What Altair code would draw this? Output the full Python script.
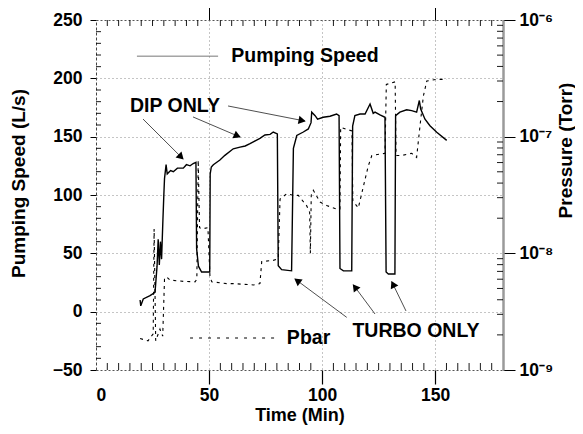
import math
import altair as alt
import pandas as pd

# ---------------- data ----------------
# Pumping speed (L/s) vs time (min)
speed_time = [19.5, 19.8, 20.9, 23.9, 26.1, 27.0, 27.5, 28.0, 28.5, 29.0, 29.6, 30.0, 30.3,
              31.0, 31.5, 32.0, 33.0, 34.2, 36.0, 38.6, 40.0, 41.6, 43.0, 44.2, 44.5, 45.3,
              46.7, 50.3, 50.5, 51.0, 51.9, 54.8, 57.0, 60.7, 63.7, 66.0, 68.1, 70.0, 72.5,
              74.7, 77.0, 78.4, 80.2, 80.6, 82.1, 86.5, 87.3, 88.8, 91.7, 93.9, 95.1, 95.4,
              96.9, 98.0, 100.5, 103.5, 106.4, 107.5, 107.9, 109.4, 113.1, 113.5, 114.5,
              116.8, 119.0, 121.2, 122.6, 123.4, 125.6, 127.8, 128.3, 129.3, 132.2, 132.5,
              134.4, 137.4, 139.6, 141.8, 143.0, 143.6, 145.5, 147.7, 150.7, 155.1]
speed_value = [10, 5, 10.9, 13.7, 16.6, 39, 62, 40, 60, 45, 79, 100, 114,
               126, 118, 119, 121, 120, 123, 123, 126, 125, 127, 128, 54, 39,
               34, 34, 118, 124, 126, 130, 134, 139.6, 141, 142, 144, 146, 148.6,
               151.4, 152, 154, 152.3, 39.4, 36, 35, 140, 151, 154, 156.6, 162, 171,
               168, 165, 166.6, 167.5, 169.4, 168, 37, 35, 35, 159, 168,
               169.4, 169.4, 178, 170, 171, 168.6, 166.6, 34, 32.3, 32.3, 168,
               171, 173, 172.3, 171, 181, 173.7, 165, 159.4, 153.7, 146.8]

# Pbar pressure (Torr) vs time (min)
pbar_time = [19.5, 23.0, 25.3, 25.7, 26.4, 28.3, 29.5, 30.3, 31.2, 32.7, 38.6, 43.8, 44.6,
             45.2, 45.8, 47.0, 49.5, 50.4, 51.2, 57.8, 60.7, 69.6, 72.5, 73.3, 78.4, 80.6,
             81.4, 84.3, 87.3, 89.5, 93.2, 94.5, 94.8, 95.2, 96.1, 99.1, 102.0, 106.4, 107.9,
             108.2, 113.2, 113.6, 116.0, 120.4, 122.0, 127.8, 128.4, 132.3, 132.7, 135.2,
             139.6, 141.8, 143.3, 144.8, 146.3, 150.7, 155.1]
pbar_value = [1.86e-9, 1.78e-9, 2.04e-9, 1.62e-8, 1.78e-9, 2.24e-9, 1.95e-9, 6.0e-9, 6.3e-9,
              5.9e-9, 5.75e-9, 5.7e-9, 6.0e-9, 6.3e-8, 1.66e-8, 1.62e-8, 1.66e-8, 6.3e-9,
              5.7e-9, 5.5e-9, 5.5e-9, 5.36e-9, 5.5e-9, 8.5e-9, 8.7e-9, 9.0e-9, 2.92e-8,
              3.24e-8, 3.14e-8, 3.14e-8, 2.55e-8, 2.24e-8, 1.0e-8, 3.16e-8, 3.47e-8, 2.75e-8,
              2.57e-8, 2.4e-8, 2.4e-8, 1.2e-7, 1.12e-7, 2.82e-8, 2.45e-8, 5.6e-8, 6.9e-8,
              7.2e-8, 2.8e-7, 2.95e-7, 6.9e-8, 6.9e-8, 7.2e-8, 6.65e-8, 1.24e-7, 2.24e-7,
              3.0e-7, 3.1e-7, 3.1e-7]

# axis ticks
x_ticks = [0, 50, 100, 150]
x_top_ticks = [50, 150]
x_minor = [v for v in range(5, 180, 5) if v % 50 != 0]
y_ticks = [-50, 0, 50, 100, 150, 200, 250]
y_minor = [v for v in range(-40, 250, 10) if v % 50 != 0]
p_ticks = [1e-9, 1e-8, 1e-7, 1e-6]
p_minor = [m * 10.0 ** e for e in (-9, -8, -7) for m in range(2, 10)]

# annotations
label_text = ["Pumping Speed", "DIP ONLY", "TURBO ONLY", "Pbar"]
label_x = [92.4, 34.9, 141.5, 94.0]
label_y = [219.0, 176.3, -16.6, -22.6]

arrow_x1 = [20.8, 42.9, 58.4, 110.9, 123.4, 137.1]
arrow_y1 = [165.1, 166.9, 176.3, -4.9, -2.0, 0.6]
arrow_x2 = [38.5, 63.7, 92.4, 88.0, 113.8, 130.8]
arrow_y2 = [130.9, 149.7, 163.4, 28.0, 23.0, 25.7]

sample_x1 = [18.1, 41.6]
sample_x2 = [54.0, 80.0]
sample_y = [219.0, -22.6]

# ---------------- layout / style ----------------
W, H = 407, 350
X_DOM, Y_DOM, P_DOM = [0, 180], [-50, 250], [1e-9, 1e-6]
FONT = "Liberation Sans"
GRID = "#8a8a8a"

xs = alt.Scale(domain=X_DOM, nice=False, zero=False)
ys = alt.Scale(domain=Y_DOM, nice=False, zero=False)
ps = alt.Scale(type="log", domain=P_DOM, nice=False)

speed_df = pd.DataFrame({"t": speed_time, "s": speed_value})
pbar_df = pd.DataFrame({"t": pbar_time, "p": pbar_value})

speed = alt.Chart(speed_df).mark_line(color="black", strokeWidth=1.4).encode(
    x=alt.X("t:Q", scale=xs, axis=alt.Axis(
        values=x_ticks, title="Time (Min)", orient="bottom",
        labelFont=FONT, labelFontSize=17.5, labelFontWeight="bold", labelColor="black",
        labelPadding=2, tickSize=14, tickWidth=1.2,
        tickColor=alt.condition("datum.value == 0", alt.value("transparent"), alt.value("black")),
        domainColor="#555", domainDash=[2, 2], domainWidth=1,
        grid=True, gridDash=[1, 3], gridWidth=1,
        gridColor=alt.condition("datum.value == 0", alt.value("transparent"), alt.value(GRID)),
        titleFont=FONT, titleFontSize=18, titleFontWeight="bold", titleColor="black",
        titlePadding=3)),
    y=alt.Y("s:Q", scale=ys, axis=alt.Axis(
        values=y_ticks, title="Pumping Speed (L/s)", orient="left",
        labelFont=FONT, labelFontSize=17.5, labelFontWeight="bold", labelColor="black",
        labelPadding=8, tickSize=6, tickColor="black",
        domainColor="#444", domainDash=[3, 2], domainWidth=1,
        grid=True, gridDash=[1, 3], gridWidth=1,
        gridColor=alt.condition("datum.value == -50 || datum.value == 250",
                                alt.value("transparent"), alt.value(GRID)),
        titleFont=FONT, titleFontSize=19, titleFontWeight="bold", titleColor="black",
        titleAngle=270, titleX=-78, titleY=163, titleBaseline="middle")),
)

pbar = alt.Chart(pbar_df).mark_line(color="black", strokeWidth=1.1, strokeDash=[3, 4]).encode(
    x=alt.X("t:Q", scale=xs, axis=None),
    y=alt.Y("p:Q", scale=ps, axis=alt.Axis(
        values=p_ticks, title="Pressure (Torr)", orient="right",
        labelExpr="datum.value <= 1.5e-9 ? '10⁻⁹' : datum.value <= 1.5e-8 ? '10⁻⁸' : "
                  "datum.value <= 1.5e-7 ? '10⁻⁷' : '10⁻⁶'",
        labelFont=FONT, labelFontSize=17.5, labelFontWeight="bold", labelColor="black",
        labelPadding=4, tickSize=12, tickColor="black",
        domainColor="#9a9a9a", domainWidth=2.5, grid=False,
        titleFont=FONT, titleFontSize=19, titleFontWeight="bold", titleColor="black",
        titleAngle=270, titleX=62, titleY=130, titleBaseline="middle")),
)

# minor ticks (inward)
top_minor = alt.Chart(pd.DataFrame({"t": x_minor})).mark_rule(color="black", strokeWidth=0.9).encode(
    x=alt.X("t:Q", scale=xs, axis=alt.Axis(
        values=x_top_ticks, orient="top", labels=False, title=None, tickSize=15,
        tickColor="black", domainColor="#555", domainDash=[2, 2], grid=False)),
    y=alt.value(0), y2=alt.value(6),
)
bottom_minor = alt.Chart(pd.DataFrame({"t": x_minor})).mark_rule(color="black", strokeWidth=0.9).encode(
    x=alt.X("t:Q", scale=xs, axis=None),
    y=alt.value(H - 7), y2=alt.value(H),
)
left_minor = alt.Chart(pd.DataFrame({"s": y_minor})).mark_rule(color="black", strokeWidth=0.9).encode(
    y=alt.Y("s:Q", scale=ys, axis=None),
    x=alt.value(0), x2=alt.value(5),
)
right_minor = alt.Chart(pd.DataFrame({"p": p_minor})).mark_rule(color="black", strokeWidth=0.9).encode(
    y=alt.Y("p:Q", scale=ps, axis=None),
    x=alt.value(W - 6), x2=alt.value(W),
)

# text labels
labels = alt.Chart(pd.DataFrame({"t": label_x, "s": label_y, "txt": label_text})).mark_text(
    font=FONT, fontSize=19.5, fontWeight="bold", color="black", align="center", baseline="middle"
).encode(
    x=alt.X("t:Q", scale=xs, axis=None),
    y=alt.Y("s:Q", scale=ys, axis=None),
    text="txt:N",
)

# arrows
adf = pd.DataFrame({"x1": arrow_x1, "y1": arrow_y1, "x2": arrow_x2, "y2": arrow_y2})
px_per_x = W / (X_DOM[1] - X_DOM[0])
px_per_y = H / (Y_DOM[1] - Y_DOM[0])
angles, hx, hy = [], [], []
for a, b, c, d in zip(arrow_x1, arrow_y1, arrow_x2, arrow_y2):
    dx = (c - a) * px_per_x
    dy = -(d - b) * px_per_y  # screen down positive
    ang = math.degrees(math.atan2(dx, -dy)) % 360
    L = math.hypot(dx, dy)
    back = 4.0
    hx.append(c - (dx / L) * back / px_per_x)
    hy.append(d + (dy / L) * back / px_per_y)
    angles.append(ang)
adf["hx"], adf["hy"], adf["ang"] = hx, hy, angles

arrow_lines = alt.Chart(adf).mark_rule(color="#222", strokeWidth=0.8).encode(
    x=alt.X("x1:Q", scale=xs, axis=None), y=alt.Y("y1:Q", scale=ys, axis=None),
    x2="x2:Q", y2="y2:Q",
)
arrow_heads = alt.Chart(adf).mark_point(shape="triangle", filled=True, color="black",
                                         size=70, opacity=1).encode(
    x=alt.X("hx:Q", scale=xs, axis=None), y=alt.Y("hy:Q", scale=ys, axis=None),
    angle=alt.Angle("ang:Q", scale=None),
)

# legend sample lines
sdf = pd.DataFrame({"x1": sample_x1, "x2": sample_x2, "y": sample_y})
sample_speed = alt.Chart(sdf.iloc[[0]]).mark_rule(color="#777", strokeWidth=1).encode(
    x=alt.X("x1:Q", scale=xs, axis=None), x2="x2:Q", y=alt.Y("y:Q", scale=ys, axis=None))
sample_pbar = alt.Chart(sdf.iloc[[1]]).mark_rule(color="black", strokeWidth=1.1,
                                                  strokeDash=[3, 6]).encode(
    x=alt.X("x1:Q", scale=xs, axis=None), x2="x2:Q", y=alt.Y("y:Q", scale=ys, axis=None))

chart = alt.layer(
    speed, pbar, top_minor, bottom_minor, left_minor, right_minor,
    labels, arrow_lines, arrow_heads, sample_speed, sample_pbar,
).resolve_scale(y="independent").resolve_axis(x="independent", y="independent").properties(
    width=W, height=H,
    autosize=alt.AutoSizeParams(type="none"),
    padding={"left": 88, "top": 12, "right": 72, "bottom": 56},
    background="white",
).configure_view(stroke=None)

chart.save("out.html", embed_options={"renderer": "svg", "actions": False})
